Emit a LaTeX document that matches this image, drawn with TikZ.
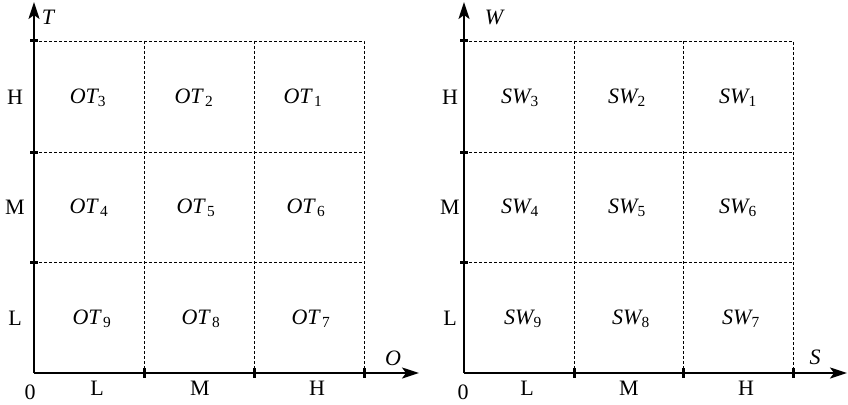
\documentclass[tikz,border=0pt]{standalone}
\usepackage{fontspec}
\setmainfont{Liberation Serif}
\usetikzlibrary{arrows.meta}
\begin{document}
\begin{tikzpicture}[x=1pt,y=-1pt,font=\fontsize{22}{26}\selectfont,
  axis/.style={line width=2.2pt,-{Stealth[length=17pt,width=11pt,inset=4pt]}},
  grid/.style={dashed,line width=0.7pt,dash pattern=on 3pt off 2pt},
  tick/.style={line width=3pt},
  lab/.style={inner sep=0pt,anchor=center}]
\useasboundingbox (0,0) rectangle (848,404);
% ---------- left panel ----------
\coordinate (o1) at (34,373);
\coordinate (yt1) at (34,2);
\coordinate (xt1) at (419,373);
\draw[grid] (34,41) -- (364,41) -- (364,373);
\draw[grid] (34,152) -- (364,152);
\draw[grid] (34,262) -- (364,262);
\draw[grid] (144,41) -- (144,373);
\draw[grid] (254,41) -- (254,373);
\draw[axis] (o1) -- (yt1);
\draw[axis] (o1) -- (xt1);
\foreach \y in {41,152,262} \draw[tick] (30,\y) -- (38,\y);
\foreach \x in {144,254,364} \draw[tick] (\x,368) -- (\x,378);
\node[lab] (T1) at (48,17) {\itshape T};
\node[lab] (O1) at (393,358) {\itshape O};
\node[lab] (z1) at (30,392) {0};
\node[lab] (xl1) at (97,388) {L};
\node[lab] (xm1) at (200,388) {M};
\node[lab] (xh1) at (317,388) {H};
\node[lab] (yh1) at (15,97) {H};
\node[lab] (ym1) at (15,207) {M};
\node[lab] (yl1) at (15,318) {L};
\node[lab] (c3) at (88,98) {\itshape OT\textsubscript{\upshape 3}};
\node[lab] (c2) at (194,98) {\itshape OT\textsubscript{\upshape\,2}};
\node[lab] (c1) at (303,98) {\itshape OT\textsubscript{\upshape\,1}};
\node[lab] (c4) at (89,208) {\itshape OT\textsubscript{\upshape\,4}};
\node[lab] (c5) at (196,208) {\itshape OT\textsubscript{\upshape\,5}};
\node[lab] (c6) at (306,208) {\itshape OT\textsubscript{\upshape\,6}};
\node[lab] (c9) at (92,319) {\itshape OT\textsubscript{\upshape\,9}};
\node[lab] (c8) at (201,319) {\itshape OT\textsubscript{\upshape\,8}};
\node[lab] (c7) at (311,319) {\itshape OT\textsubscript{\upshape\,7}};
% ---------- right panel ----------
\coordinate (o2) at (464,373);
\coordinate (yt2) at (464,2);
\coordinate (xt2) at (847,373);
\draw[grid] (464,41) -- (793,41) -- (793,373);
\draw[grid] (464,152) -- (793,152);
\draw[grid] (464,262) -- (793,262);
\draw[grid] (574,41) -- (574,373);
\draw[grid] (683,41) -- (683,373);
\draw[axis] (o2) -- (yt2);
\draw[axis] (o2) -- (xt2);
\foreach \y in {41,152,262} \draw[tick] (460,\y) -- (468,\y);
\foreach \x in {574,683,793} \draw[tick] (\x,368) -- (\x,378);
\node[lab] (W2) at (494,17) {\itshape W};
\node[lab] (S2) at (815,357) {\itshape S};
\node[lab] (z2) at (463,392) {0};
\node[lab] (xl2) at (527,388) {L};
\node[lab] (xm2) at (629,388) {M};
\node[lab] (xh2) at (746,388) {H};
\node[lab] (yh2) at (450,97) {H};
\node[lab] (ym2) at (450,207) {M};
\node[lab] (yl2) at (450,318) {L};
\node[lab] (s3) at (520,98) {\itshape SW\textsubscript{\upshape 3}};
\node[lab] (s2) at (627,98) {\itshape SW\textsubscript{\upshape 2}};
\node[lab] (s1) at (738,98) {\itshape SW\textsubscript{\upshape 1}};
\node[lab] (s4) at (520,208) {\itshape SW\textsubscript{\upshape 4}};
\node[lab] (s5) at (627,208) {\itshape SW\textsubscript{\upshape 5}};
\node[lab] (s6) at (738,208) {\itshape SW\textsubscript{\upshape 6}};
\node[lab] (s9) at (523,319) {\itshape SW\textsubscript{\upshape 9}};
\node[lab] (s8) at (631,319) {\itshape SW\textsubscript{\upshape 8}};
\node[lab] (s7) at (741,319) {\itshape SW\textsubscript{\upshape 7}};
\end{tikzpicture}
\end{document}
